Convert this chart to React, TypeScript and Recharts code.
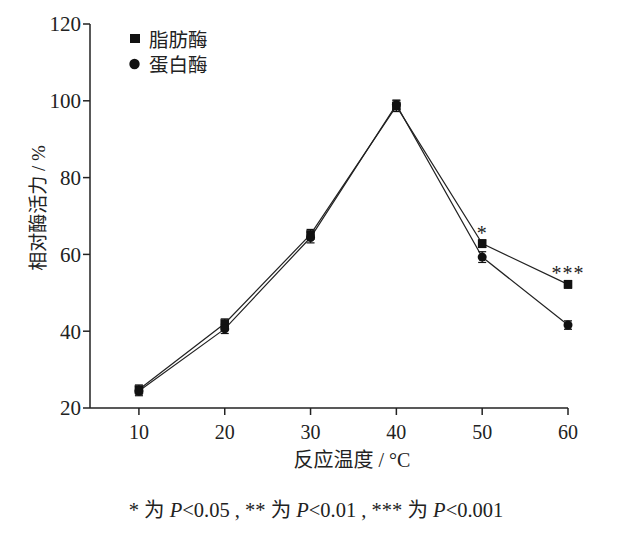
import React from 'react';
import { LineChart, Line, XAxis, YAxis, ErrorBar, LabelList } from 'recharts';

const temperatures = [10, 20, 30, 40, 50, 60];
const lipaseValues = [24.8, 42.0, 65.2, 98.6, 62.8, 52.2];
const lipaseErrors = [1.2, 1.2, 1.3, 1.4, 1.0, 1.0];
const proteaseValues = [24.4, 40.6, 64.4, 99.0, 59.3, 41.6];
const proteaseErrors = [1.2, 1.2, 1.4, 1.2, 1.4, 1.1];
const sigLabels = ['', '', '', '', '*', '***'];
const xTicks = [10, 20, 30, 40, 50, 60];
const yTicks = [20, 40, 60, 80, 100, 120];
const lipaseName = '脂肪酶';
const proteaseName = '蛋白酶';
const xLabel = '反应温度 / °C';
const yLabel = '相对酶活力 / %';

const data = temperatures.map((t, i) => ({
  t,
  lipase: lipaseValues[i],
  lipaseErr: lipaseErrors[i],
  protease: proteaseValues[i],
  proteaseErr: proteaseErrors[i],
  sig: sigLabels[i],
}));

const SERIF = '"Liberation Serif", "Noto Sans CJK SC", serif';
const INK = '#222';

const SquareDot = (props: any) => {
  const { cx, cy, index } = props;
  if (cx == null || cy == null) return <g key={`s-${index}`} />;
  return <rect key={`s-${index}`} x={cx - 4.3} y={cy - 4.3} width={8.6} height={8.6} fill="#111" />;
};

const CircleDot = (props: any) => {
  const { cx, cy, index } = props;
  if (cx == null || cy == null) return <g key={`c-${index}`} />;
  return <circle key={`c-${index}`} cx={cx} cy={cy} r={4.5} fill="#111" />;
};

const SigLabel = (props: any) => {
  const { x, y, value } = props;
  if (!value) return null;
  return (
    <text x={x} y={y - 4} textAnchor="middle" fontFamily={SERIF} fontSize={20} fill={INK} letterSpacing={1}>
      {value}
    </text>
  );
};

const XLabel = (props: any) => {
  const vb = props.viewBox || { x: 90, y: 408, width: 478, height: 60 };
  return (
    <text x={vb.x + 262} y={vb.y + 59} textAnchor="middle" fontFamily={SERIF} fontSize={20} fill={INK}>
      {xLabel}
    </text>
  );
};

const YLabel = (props: any) => {
  const vb = props.viewBox || { x: 0, y: 24, width: 90, height: 384 };
  const cx = vb.x + 38;
  const cy = vb.y + vb.height / 2 - 8;
  return (
    <text
      x={cx}
      y={cy}
      transform={`rotate(-90, ${cx}, ${cy})`}
      textAnchor="middle"
      dominantBaseline="central"
      fontFamily={SERIF}
      fontSize={19}
      fill={INK}
    >
      {yLabel}
    </text>
  );
};

export default function App() {
  return (
    <div style={{ position: 'absolute', left: 0, top: 0, width: 632, height: 533, background: '#fff' }}>
      <LineChart width={632} height={533} data={data} margin={{ top: 24, right: 64, left: 0, bottom: 65 }}>
        <XAxis
          dataKey="t"
          type="number"
          domain={[4.3, 60]}
          ticks={xTicks}
          height={60}
          stroke={INK}
          strokeWidth={1.5}
          tickSize={7}
          tick={{ fontFamily: SERIF, fontSize: 20, fill: INK }}
          tickMargin={10}
          label={<XLabel />}
        />
        <YAxis
          type="number"
          domain={[20, 120]}
          ticks={yTicks}
          width={90}
          stroke={INK}
          strokeWidth={1.5}
          tickSize={7}
          tick={{ fontFamily: SERIF, fontSize: 21, fill: INK }}
          tickMargin={2}
          label={<YLabel />}
        />
        <Line
          dataKey="lipase"
          name={lipaseName}
          stroke={INK}
          strokeWidth={1.2}
          dot={SquareDot}
          activeDot={false}
          isAnimationActive={false}
        >
          <ErrorBar dataKey="lipaseErr" width={4} stroke="#111" strokeWidth={1.2} direction="y" />
          <LabelList dataKey="sig" content={SigLabel} />
        </Line>
        <Line
          dataKey="protease"
          name={proteaseName}
          stroke={INK}
          strokeWidth={1.2}
          dot={CircleDot}
          activeDot={false}
          isAnimationActive={false}
        >
          <ErrorBar dataKey="proteaseErr" width={4} stroke="#111" strokeWidth={1.2} direction="y" />
        </Line>
      </LineChart>
      <div
        style={{
          position: 'absolute',
          left: 128,
          top: 26,
          fontFamily: '"Noto Sans CJK SC", sans-serif',
          fontSize: 19.5,
          color: INK,
          lineHeight: '25px',
        }}
      >
        <div style={{ display: 'flex', alignItems: 'center', height: 25 }}>
          <svg width={20} height={14} style={{ marginRight: 1 }}>
            <rect x={2} y={2} width={10} height={9} fill="#111" />
          </svg>
          {lipaseName}
        </div>
        <div style={{ display: 'flex', alignItems: 'center', height: 25 }}>
          <svg width={20} height={14} style={{ marginRight: 1 }}>
            <circle cx={6.5} cy={7} r={5.2} fill="#111" />
          </svg>
          {proteaseName}
        </div>
      </div>
      <div
        style={{
          position: 'absolute',
          left: 0,
          width: 632,
          top: 498,
          textAlign: 'center',
          fontFamily: SERIF,
          fontSize: 20.5,
          lineHeight: '24px',
          color: INK,
          whiteSpace: 'pre',
        }}
      >
        {'* 为 '}<i>P</i>{'<0.05 , ** 为 '}<i>P</i>{'<0.01 , *** 为 '}<i>P</i>{'<0.001'}
      </div>
    </div>
  );
}
